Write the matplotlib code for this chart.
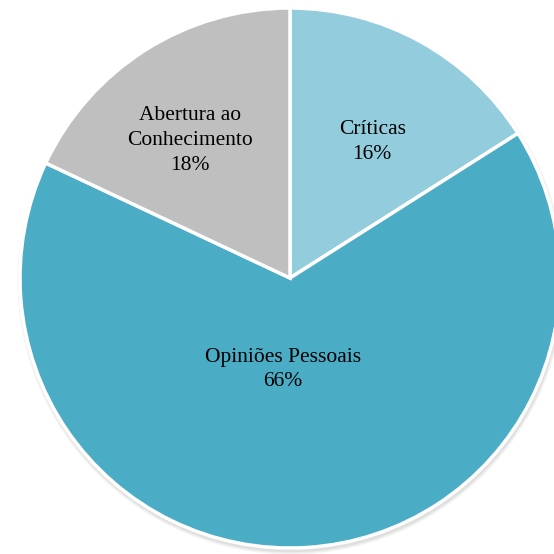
import numpy as np
import matplotlib.pyplot as plt
from matplotlib.patches import Circle

# data
labels = ["Críticas", "Opiniões Pessoais", "Abertura ao\nConhecimento"]
values = [16, 66, 18]
colors = ["#93CDDD", "#4AACC5", "#BFBFBF"]

# label placement (fraction of radius, angle shift from wedge middle in degrees)
label_dist = [0.59, 0.34, 0.63]
label_shift = [-2.3, -7.9, 3.5]

plt.rcParams["font.family"] = ["Liberation Serif", "DejaVu Serif"]

fig = plt.figure(figsize=(5.54, 5.54), dpi=100)
ax = fig.add_axes([0, 0, 1, 1])

R = 270

# soft shadow behind the pie
for i, a in enumerate([0.04, 0.04, 0.05]):
    ax.add_patch(Circle((1, -3), R + 3.5 - i * 1.2, color="black", alpha=a, lw=0, zorder=0))

wedges, _ = ax.pie(values, colors=colors, startangle=90, counterclock=False,
                   radius=R, center=(0, 0), frame=True,
                   wedgeprops=dict(edgecolor="white", linewidth=2.5))
ax.set_xlim(-290, 264)
ax.set_ylim(-276, 278)
ax.set_aspect("equal")
ax.axis("off")

for w, lab, v, d, s in zip(wedges, labels, values, label_dist, label_shift):
    mid = np.deg2rad((w.theta1 + w.theta2) / 2 + s)
    ax.text(d * R * np.cos(mid), d * R * np.sin(mid), f"{lab}\n{v}%",
            ha="center", va="center", fontsize=15.5, color="black",
            linespacing=1.42)

fig.savefig("out.png", dpi=100)
